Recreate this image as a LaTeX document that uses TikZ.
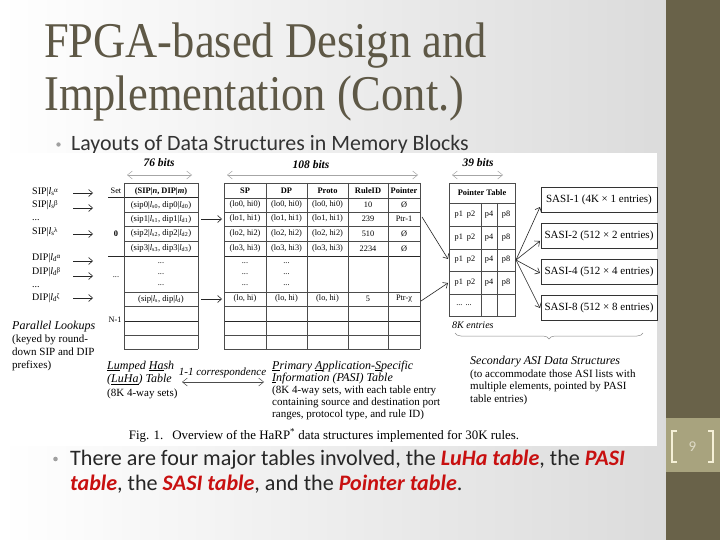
\documentclass[tikz,border=0pt]{standalone}
\usepackage{fontspec}
\setmainfont{Liberation Serif}
\newfontfamily\calib{Carlito}
\usetikzlibrary{arrows.meta,decorations.pathreplacing}
\definecolor{titlec}{RGB}{94,88,70}
\definecolor{sidec}{RGB}{105,98,73}
\definecolor{bandc}{RGB}{168,163,126}
\definecolor{redc}{RGB}{200,16,16}
\definecolor{bulc}{RGB}{160,160,160}
\definecolor{brk}{RGB}{245,240,215}
\newcommand{\lsub}[2]{\textit{l}\textsubscript{#1}\kern-0.5pt\raisebox{2.2pt}{\fontsize{7}{7}\selectfont #2}}
\begin{document}
\begin{tikzpicture}[x=1pt,y=-1pt,
  ft/.style={font=\fontsize{8.3}{9}\selectfont, inner sep=0pt},
  fu/.style={font=\fontsize{8.6}{9}\selectfont, inner sep=0pt},
  fh/.style={font=\fontsize{8.4}{9}\selectfont\bfseries, inner sep=0pt},
  fl/.style={font=\fontsize{10}{11}\selectfont, inner sep=0pt, anchor=west, text height=6pt, text depth=1.5pt},
  fc/.style={font=\fontsize{11}{13}\selectfont, inner sep=0pt, anchor=base west},
  fci/.style={font=\fontsize{12}{13}\selectfont\itshape, inner sep=0pt, anchor=base west},
  tl/.style={draw=black!70, line width=0.45pt},
  tk/.style={draw=black!85, line width=1pt},
  arr/.style={-{Straight Barb[length=4pt,width=7pt]}, line width=0.6pt, draw=black!85},
  barr/.style={{Straight Barb[length=5pt,width=8pt]}-{Straight Barb[length=5pt,width=8pt]}, draw=black!35, line width=0.5pt},
  sasi/.style={draw=black!80, line width=0.5pt, minimum width=116pt, minimum height=25pt, inner sep=0pt, font=\fontsize{11}{12}\selectfont},
  bits/.style={font=\fontsize{11.5}{12}\selectfont\bfseries\itshape, inner sep=0pt}]
\useasboundingbox (0,0) rectangle (720,540);
% background
\shade[left color=white, right color=black!14] (0,0) rectangle (666,540);
\fill[sidec] (666,0) rectangle (720,540);
\fill[bandc] (666,418) rectangle (720,472);
\draw[brk, line width=1.6pt] (677,431) -- (672,431) -- (672,462) -- (677,462);
\draw[brk, line width=1.6pt] (708,431) -- (713,431) -- (713,462) -- (708,462);
\node[font=\calib\fontsize{15}{16}\selectfont, text=brk!80!gray, inner sep=0] (pnum) at (692.5,447) {9};
% title
\node[anchor=base west, inner sep=0, text=titlec, font=\fontsize{50}{52}\selectfont] (t1) at (44,58) {\scalebox{0.89}[1]{FPGA-based Design and}};
\node[anchor=base west, inner sep=0, text=titlec, font=\fontsize{50}{52}\selectfont] (t2) at (44,111) {\scalebox{0.89}[1]{Implementation (Cont.)}};
% bullet 1
\fill[bulc] (58.5,144.5) circle (2.2pt);
\node[anchor=base west, inner sep=0, font=\calib\fontsize{21.9}{24}\selectfont, text=black!80] (b1) at (71,151) {Layouts of Data Structures in Memory Blocks};
% figure panel
\fill[white] (6,153) rectangle (657,446);
% bits headers
\node[bits] (b76) at (159,163) {76 bits};
\draw[barr] (127,175) -- (192,175);
\node[bits] (b108) at (311,165) {108 bits};
\draw[barr] (227,175) -- (418,175);
\node[bits] (b39) at (478,163) {39 bits};
\draw[barr] (452,175) -- (503,175);
% left labels
\node[fl] (la1) at (32,192) {SIP|\lsub{s}{α}};
\node[fl] (la2) at (32,205) {SIP|\lsub{s}{β}};
\node[fl] (la3) at (32,218) {...};
\node[fl] (la4) at (32,232) {SIP|\lsub{s}{λ}};
\node[fl] (la5) at (32,258) {DIP|\lsub{d}{α}};
\node[fl] (la6) at (32,272) {DIP|\lsub{d}{β}};
\node[fl] (la7) at (32,285) {...};
\node[fl] (la8) at (32,298) {DIP|\lsub{d}{ζ}};
\foreach \n/\yy in {1/193,2/208,4/234,5/261,6/276,8/298}{
  \coordinate (ls\n) at (73,\yy);
  \coordinate (le\n) at (93,\yy);
  \draw[arr] (ls\n) -- (le\n);
}
\node[fci] (pl1) at (12,329) {Parallel Lookups};
\node[fc] (pl2) at (12,342) {(keyed by round-};
\node[fc] (pl3) at (12,355) {down SIP and DIP};
\node[fc] (pl4) at (12,368) {prefixes)};
% LuHa table
\draw[tl] (124,183) -- (198,183);
\foreach \yy in {212,226,241,292,306,335}{\draw[tl] (124,\yy) -- (198,\yy);}
\draw[tl] (124,349) -- (198,349);
\draw[tk] (108,198) -- (198,198);
\draw[tk] (108,256) -- (198,256);
\draw[tk] (124,321) -- (198,321);
\draw[tl] (124,183) -- (124,349);
\draw[tl] (198,183) -- (198,349);
\node[ft] (setH) at (116,191) {Set};
\node[fh] (luH) at (161,191) {(SIP|\textit{n}, DIP|\textit{m})};
\node[fh] (set0) at (116,234) {0};
\node[ft] (set1) at (116,277) {...};
\node[ft] (set2) at (115,320) {N-1};
\node[fu] (lu0) at (161,205) {(sip0|\textit{l}\textsubscript{s0}, dip0|\textit{l}\textsubscript{d0})};
\node[fu] (lu1) at (161,219) {(sip1|\textit{l}\textsubscript{s1}, dip1|\textit{l}\textsubscript{d1})};
\node[fu] (lu2) at (161,233.5) {(sip2|\textit{l}\textsubscript{s2}, dip2|\textit{l}\textsubscript{d2})};
\node[fu] (lu3) at (161,248.5) {(sip3|\textit{l}\textsubscript{s3}, dip3|\textit{l}\textsubscript{d3})};
\node[ft] (lud1) at (161,263) {...};
\node[ft] (lud2) at (161,274) {...};
\node[ft] (lud3) at (161,285) {...};
\node[fu] (lux) at (161,299) {(sip|\textit{l}\textsubscript{s}, dip|\textit{l}\textsubscript{d})};
% PASI table
\draw[tl] (224,183) -- (420,183);
\draw[tl] (224,198) -- (420,198);
\foreach \yy in {212,226,241,292,306,335,349}{\draw[tl] (224,\yy) -- (420,\yy);}
\draw[tk] (224,256) -- (420,256);
\draw[tk] (224,321) -- (420,321);
\foreach \xx in {224,266,307,348,388,420}{\draw[tl] (\xx,183) -- (\xx,349);}
\node[fh] (pH1) at (245,191) {SP};
\node[fh] (pH2) at (286.5,191) {DP};
\node[fh] (pH3) at (327.5,191) {Proto};
\node[fh] (pH4) at (368,191) {RuleID};
\node[fh] (pH5) at (404,191) {Pointer};
\foreach \r/\yy/\rid/\pt in {0/205/10/Ø,1/219/239/Ptr-1,2/233.5/510/Ø,3/248.5/2234/Ø}{
  \node[ft] (pa\r) at (245,\yy) {(lo\r, hi\r)};
  \node[ft] (pb\r) at (286.5,\yy) {(lo\r, hi\r)};
  \node[ft] (pc\r) at (327.5,\yy) {(lo\r, hi\r)};
  \node[ft] (pd\r) at (368,\yy) {\rid};
  \node[ft] (pe\r) at (404,\yy) {\pt};
}
\foreach \k/\yy in {1/263,2/274,3/285}{
  \node[ft] (pad\k) at (245,\yy) {...};
  \node[ft] (pbd\k) at (286.5,\yy) {...};
}
\node[ft] (pax) at (245,299) {(lo, hi)};
\node[ft] (pbx) at (286.5,299) {(lo, hi)};
\node[ft] (pcx) at (327.5,299) {(lo, hi)};
\node[ft] (pdx) at (368,299) {5};
\node[ft] (pex) at (404,299) {Ptr-χ};
% LuHa -> PASI arrows
\coordinate (a1s) at (201,219); \coordinate (a1e) at (222,219);
\coordinate (a2s) at (201,299); \coordinate (a2e) at (222,299);
\draw[arr] (a1s) -- (a1e);
\draw[arr] (a2s) -- (a2e);
% Pointer table
\draw[tl] (449,183) rectangle (515,316);
\foreach \yy in {203,226,249,271,294}{\draw[tl] (449,\yy) -- (515,\yy);}
\draw[tl] (481,203) -- (481,316);
\draw[tl] (497,203) -- (497,316);
\node[fh] (ptH) at (482,193) {Pointer Table};
\foreach \r/\yy in {1/214.5,2/237.5,3/260,4/282.5}{
  \node[ft] (q\r a) at (465,\yy) {p1\hspace{4pt}p2};
  \node[ft] (q\r b) at (489,\yy) {p4};
  \node[ft] (q\r c) at (506,\yy) {p8};
}
\node[ft] (q5) at (464,305) {...\hspace{3pt}...};
\node[font=\fontsize{10}{11}\selectfont\itshape, inner sep=0, anchor=base west] (k8) at (452,328) {8K entries};
% PASI -> Pointer arrows
\coordinate (pp1s) at (422,217); \coordinate (pp1e) at (448,259);
\coordinate (pp2s) at (421,301); \coordinate (pp2e) at (448,283);
\draw[arr] (pp1s) -- (pp1e);
\draw[arr] (pp2s) -- (pp2e);
% SASI boxes
\node[sasi] (s1) at (599,200) {SASI-1 (4K × 1 entries)};
\node[sasi] (s2) at (599,236) {SASI-2 (512 × 2 entries)};
\node[sasi] (s4) at (599,271.5) {SASI-4 (512 × 4 entries)};
\node[sasi] (s8) at (599,307.5) {SASI-8 (512 × 8 entries)};
\coordinate (po) at (516,260);
\coordinate (t1e) at (540,207);
\coordinate (t2e) at (540,241);
\coordinate (t4e) at (540,273);
\coordinate (t8e) at (540,308);
\foreach \t in {t1e,t2e,t4e,t8e}{\draw[arr] (po) -- (\t);}
% brace
\draw[draw=black!45, line width=0.5pt, decorate, decoration={brace, mirror, amplitude=6pt}] (455,333) -- (643,333);
\node[fci] (sec1) at (470,364) {Secondary ASI Data Structures};
\node[fc] (sec2) at (470,377) {(to accommodate those ASI lists with};
\node[fc] (sec3) at (470,389.5) {multiple elements, pointed by PASI};
\node[fc] (sec4) at (470,402) {table entries)};
% LuHa caption
\node[fci] (lc1) at (107,369) {\underline{Lu}mped \underline{Ha}sh};
\node[fci] (lc2) at (107,382.5) {(\underline{Lu}\underline{Ha}) Table};
\node[fc] (lc3) at (107,396) {(8K 4-way sets)};
\node[font=\fontsize{11}{12}\selectfont\itshape, inner sep=0] (corr) at (222.5,373) {1-1 correspondence};
\coordinate (cs) at (182,382); \coordinate (ce) at (264,382);
\draw[barr, draw=black!70] (cs) -- (ce);
% PASI caption
\node[fci] (pc1) at (272,369) {\underline{P}rimary \underline{A}pplication-\underline{S}pecific};
\node[fci] (pc2) at (272,381) {\underline{I}nformation (PASI) Table};
\node[fc] (pc3) at (272,393) {(8K 4-way sets, with each table entry};
\node[fc] (pc4) at (272,405) {containing source and destination port};
\node[fc] (pc5) at (272,417) {ranges, protocol type, and rule ID)};
% figure caption
\node[font=\fontsize{12.9}{14}\selectfont, inner sep=0, anchor=base] (cap) at (324,439) {Fig. 1.\hspace{9pt}Overview of the HaRP\textsuperscript{*} data structures implemented for 30K rules.};
% bullet 2
\fill[bulc] (55.5,459) circle (2.3pt);
\node[anchor=base west, inner sep=0, font=\calib\fontsize{22.1}{25}\selectfont, text=black!85] (b2a) at (70,465) {There are four major tables involved, the {\color{redc}\bfseries\itshape LuHa table}, the {\color{redc}\bfseries\itshape PASI}};
\node[anchor=base west, inner sep=0, font=\calib\fontsize{22.1}{25}\selectfont, text=black!85] (b2b) at (70,490) {{\color{redc}\bfseries\itshape table}, the {\color{redc}\bfseries\itshape SASI table}, and the {\color{redc}\bfseries\itshape Pointer table}.};
\end{tikzpicture}
\end{document}
